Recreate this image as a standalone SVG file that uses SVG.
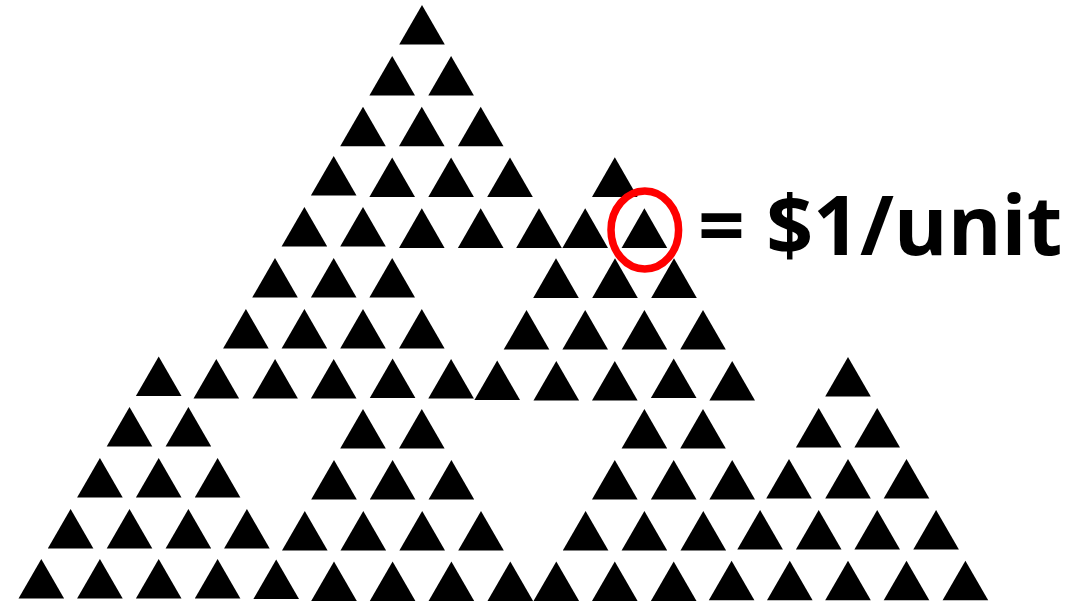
<svg xmlns="http://www.w3.org/2000/svg" xmlns:xlink="http://www.w3.org/1999/xlink" width="1077" height="603" viewBox="0 0 1077 603">
<style>
.lbl{font-family:"Open Sans","Liberation Sans",sans-serif;font-weight:700;font-size:82px;fill:#000}
.ring{fill:none;stroke:#FF0000;stroke-width:7.5}
</style>
<defs>
<path id="t" d="M0 0 L22.8 39.6 L-22.8 39.6 Z" fill="#000"/>
</defs>
<rect width="1077" height="603" fill="#fff"/>
<g id="triangles">
<g id="row1"><use href="#t" x="422" y="5"/></g>
<g id="row2"><use href="#t" x="392.2" y="56"/><use href="#t" x="451.1" y="56"/></g>
<g id="row3"><use href="#t" x="363" y="106.7"/><use href="#t" x="421.8" y="106.7"/><use href="#t" x="480.7" y="106.7"/></g>
<g id="row4"><use href="#t" x="333.7" y="156"/><use href="#t" x="392.2" y="157.5"/><use href="#t" x="451.1" y="157.5"/><use href="#t" x="510" y="157.5"/><use href="#t" x="614.8" y="157.3"/></g>
<g id="row5"><use href="#t" x="304.4" y="207"/><use href="#t" x="363" y="207"/><use href="#t" x="421.8" y="208.3"/><use href="#t" x="480.7" y="208.3"/><use href="#t" x="539" y="208.3"/><use href="#t" x="585.2" y="208.3"/><use href="#t" x="644.4" y="208.3"/></g>
<g id="row6"><use href="#t" x="275" y="258"/><use href="#t" x="333.7" y="258"/><use href="#t" x="392.2" y="258"/><use href="#t" x="556" y="258.3"/><use href="#t" x="615" y="258.3"/><use href="#t" x="674" y="258.3"/></g>
<g id="row7"><use href="#t" x="245.9" y="309"/><use href="#t" x="304.4" y="309"/><use href="#t" x="363" y="309"/><use href="#t" x="421.8" y="309"/><use href="#t" x="526.5" y="310"/><use href="#t" x="585.2" y="310"/><use href="#t" x="644.4" y="310"/><use href="#t" x="703" y="310"/></g>
<g id="row8"><use href="#t" x="158.7" y="356.5"/><use href="#t" x="216.3" y="359"/><use href="#t" x="275.1" y="359"/><use href="#t" x="333.7" y="359"/><use href="#t" x="392.6" y="358.5"/><use href="#t" x="451.1" y="359"/><use href="#t" x="497.2" y="360.5"/><use href="#t" x="556.3" y="361"/><use href="#t" x="614.8" y="361"/><use href="#t" x="673.7" y="358.5"/><use href="#t" x="732.2" y="361"/><use href="#t" x="848" y="357"/></g>
<g id="row9"><use href="#t" x="129.5" y="407"/><use href="#t" x="188.4" y="407"/><use href="#t" x="363" y="409"/><use href="#t" x="421.8" y="409"/><use href="#t" x="644.4" y="409"/><use href="#t" x="703" y="409"/><use href="#t" x="818.7" y="408"/><use href="#t" x="877.2" y="408"/></g>
<g id="row10"><use href="#t" x="99.9" y="458"/><use href="#t" x="158.7" y="458"/><use href="#t" x="217.6" y="458"/><use href="#t" x="334" y="460"/><use href="#t" x="392.6" y="460"/><use href="#t" x="451.4" y="460"/><use href="#t" x="614.8" y="460"/><use href="#t" x="673.7" y="460"/><use href="#t" x="732.2" y="460"/><use href="#t" x="789" y="459"/><use href="#t" x="848" y="459"/><use href="#t" x="906.5" y="459"/></g>
<g id="row11"><use href="#t" x="70.6" y="509"/><use href="#t" x="129.5" y="509"/><use href="#t" x="188.4" y="509"/><use href="#t" x="246.9" y="509"/><use href="#t" x="304.8" y="511"/><use href="#t" x="363.3" y="511"/><use href="#t" x="422.2" y="511"/><use href="#t" x="481" y="511"/><use href="#t" x="585.6" y="511"/><use href="#t" x="644.4" y="511"/><use href="#t" x="703.3" y="511"/><use href="#t" x="760.1" y="510"/><use href="#t" x="818.7" y="510"/><use href="#t" x="877.2" y="510"/><use href="#t" x="936.1" y="510"/></g>
<g id="row12"><use href="#t" x="41.3" y="559"/><use href="#t" x="99.9" y="559"/><use href="#t" x="158.7" y="559"/><use href="#t" x="217.6" y="559"/><use href="#t" x="276.2" y="559.5"/><use href="#t" x="334" y="561.5"/><use href="#t" x="392.6" y="561.5"/><use href="#t" x="451.4" y="561.5"/><use href="#t" x="510.3" y="561.5"/><use href="#t" x="556.3" y="561.5"/><use href="#t" x="614.8" y="561.5"/><use href="#t" x="673.7" y="561.5"/><use href="#t" x="731.6" y="560.7"/><use href="#t" x="789.8" y="560.7"/><use href="#t" x="848" y="560.7"/><use href="#t" x="906.5" y="560.7"/><use href="#t" x="965.4" y="560.7"/></g>
</g>
<g id="marker-ring"><ellipse class="ring" cx="644.8" cy="230" rx="33.8" ry="39"/></g>
<g id="label"><text class="lbl" x="698" y="255">= $1/unit</text></g>
</svg>
